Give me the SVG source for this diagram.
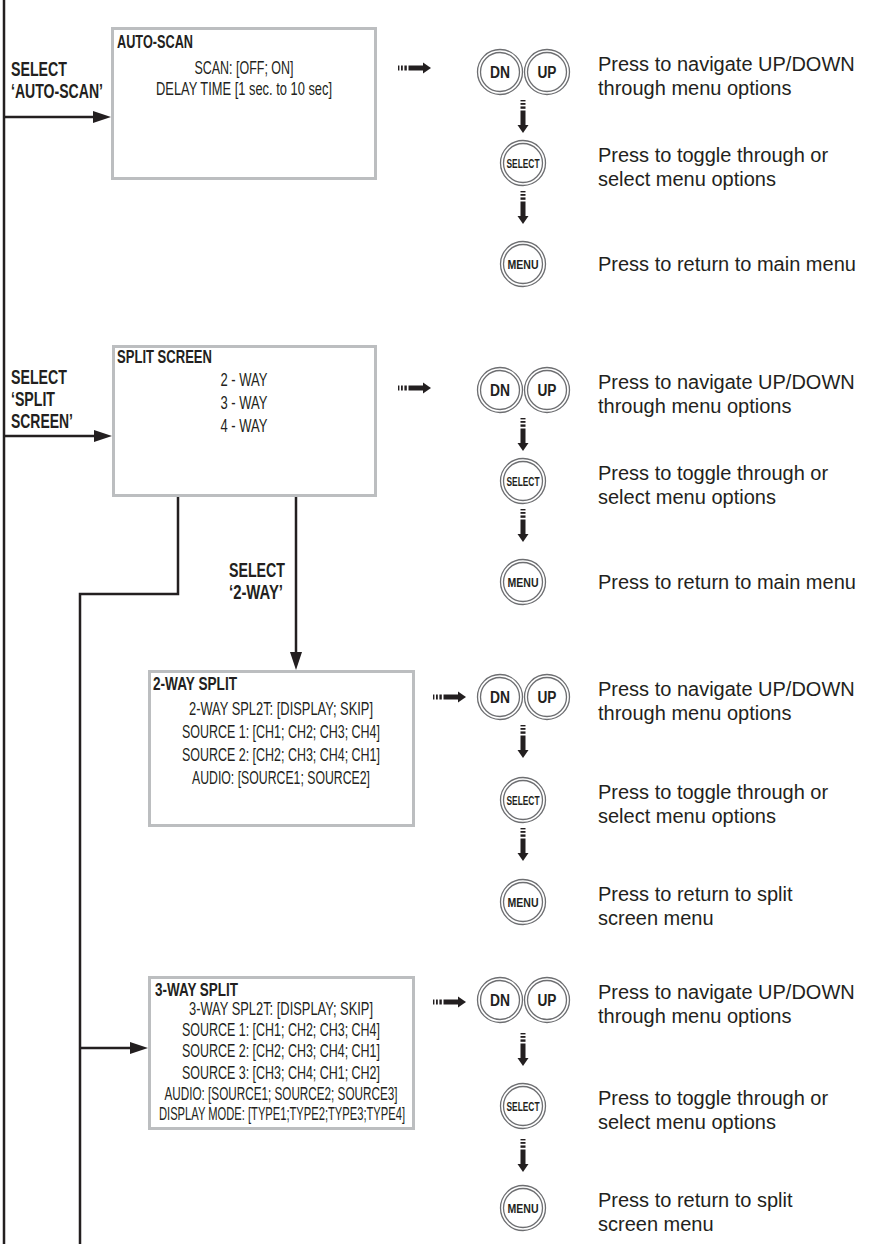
<svg xmlns="http://www.w3.org/2000/svg" width="872" height="1244" viewBox="0 0 872 1244">
<style>
.box{fill:#fff;stroke:#bcbec0;stroke-width:3}
.ttl{font-family:"Liberation Sans",Arial,sans-serif;font-weight:bold;font-size:18.5px;fill:#231f20}
.bd{font-family:"Liberation Sans",Arial,sans-serif;font-size:17.5px;fill:#231f20;text-anchor:middle}
.lbl{font-family:"Liberation Sans",Arial,sans-serif;font-weight:bold;font-size:21px;fill:#231f20}
.rt{font-family:"Liberation Sans",Arial,sans-serif;font-size:20px;fill:#231f20}
.btn{font-family:"Liberation Sans",Arial,sans-serif;font-weight:bold;fill:#231f20;text-anchor:middle}
.ln{fill:none;stroke:#231f20;stroke-width:2.5}
.ring{fill:#fff;stroke:#6d6e71;stroke-width:1.3}
</style>
<defs>
<marker id="ah" markerUnits="userSpaceOnUse" markerWidth="18" markerHeight="12" refX="0" refY="6" orient="auto">
<path d="M0,0 L18,6 L0,12 Z" fill="#231f20"/>
</marker>
<g id="darr" fill="#231f20">
<rect x="-2.5" y="0" width="5" height="1.4"/>
<rect x="-2.5" y="3" width="5" height="1.8"/>
<rect x="-2.5" y="6.4" width="5" height="2.4"/>
<rect x="-2.5" y="10.5" width="5" height="14.5"/>
<path d="M-5.5,25 L5.5,25 L0,33 Z"/>
</g>
<g id="ring2">
<circle r="22.5" class="ring"/>
<circle r="19.5" class="ring"/>
</g>
</defs>

<g id="connectors">
<path class="ln" d="M4,0 V1244"/>
<path class="ln" d="M4,117 H93" marker-end="url(#ah)"/>
<path class="ln" d="M4,436 H94" marker-end="url(#ah)"/>
<path class="ln" d="M178,497 V594 H80 V1244"/>
<path class="ln" d="M80,1048 H130" marker-end="url(#ah)"/>
<path class="ln" d="M296,497 V652" marker-end="url(#ah)"/>
<use href="#darr" transform="translate(398,68) rotate(-90)"/>
<use href="#darr" transform="translate(398,388) rotate(-90)"/>
<use href="#darr" transform="translate(433,697) rotate(-90)"/>
<use href="#darr" transform="translate(433,1002) rotate(-90)"/>
<use href="#darr" x="523" y="100"/>
<use href="#darr" x="523" y="191"/>
<use href="#darr" x="523" y="418"/>
<use href="#darr" x="523" y="509"/>
<use href="#darr" x="523" y="725"/>
<use href="#darr" x="523" y="828"/>
<use href="#darr" x="523" y="1033"/>
<use href="#darr" x="523" y="1139"/>
</g>

<g id="label-autoscan">
<text class="lbl" x="11" y="76" textLength="56" lengthAdjust="spacingAndGlyphs">SELECT</text>
<text class="lbl" x="11" y="97.5" textLength="92" lengthAdjust="spacingAndGlyphs">‘AUTO-SCAN’</text>
</g>
<g id="label-split">
<text class="lbl" x="11" y="383.5" textLength="56" lengthAdjust="spacingAndGlyphs">SELECT</text>
<text class="lbl" x="11" y="405.5" textLength="44" lengthAdjust="spacingAndGlyphs">‘SPLIT</text>
<text class="lbl" x="11" y="427.5" textLength="62" lengthAdjust="spacingAndGlyphs">SCREEN’</text>
</g>
<g id="label-2way">
<text class="lbl" x="229" y="576.5" textLength="56" lengthAdjust="spacingAndGlyphs">SELECT</text>
<text class="lbl" x="229" y="598.5" textLength="54" lengthAdjust="spacingAndGlyphs">‘2-WAY’</text>
</g>

<g id="box-autoscan">
<rect class="box" x="112.5" y="28.5" width="263" height="150"/>
<text class="ttl" x="117" y="47.5" textLength="76" lengthAdjust="spacingAndGlyphs">AUTO-SCAN</text>
<text class="bd" x="244" y="74" textLength="99" lengthAdjust="spacingAndGlyphs">SCAN: [OFF; ON]</text>
<text class="bd" x="244" y="95" textLength="176" lengthAdjust="spacingAndGlyphs">DELAY TIME [1 sec. to 10 sec]</text>
</g>

<g id="box-split">
<rect class="box" x="113.5" y="346.5" width="262" height="149"/>
<text class="ttl" x="117" y="362.5" textLength="95" lengthAdjust="spacingAndGlyphs">SPLIT SCREEN</text>
<text class="bd" x="244" y="385.5" textLength="47" lengthAdjust="spacingAndGlyphs">2 - WAY</text>
<text class="bd" x="244" y="408.5" textLength="47" lengthAdjust="spacingAndGlyphs">3 - WAY</text>
<text class="bd" x="244" y="431.5" textLength="47" lengthAdjust="spacingAndGlyphs">4 - WAY</text>
</g>

<g id="box-2way">
<rect class="box" x="149.5" y="671.5" width="264" height="154"/>
<text class="ttl" x="153" y="689.5" textLength="84" lengthAdjust="spacingAndGlyphs">2-WAY SPLIT</text>
<text class="bd" x="281" y="715" textLength="184" lengthAdjust="spacingAndGlyphs">2-WAY SPL2T: [DISPLAY; SKIP]</text>
<text class="bd" x="281" y="738" textLength="198" lengthAdjust="spacingAndGlyphs">SOURCE 1: [CH1; CH2; CH3; CH4]</text>
<text class="bd" x="281" y="761" textLength="198" lengthAdjust="spacingAndGlyphs">SOURCE 2: [CH2; CH3; CH4; CH1]</text>
<text class="bd" x="281" y="783.5" textLength="178" lengthAdjust="spacingAndGlyphs">AUDIO: [SOURCE1; SOURCE2]</text>
</g>

<g id="box-3way">
<rect class="box" x="149.5" y="977.5" width="264" height="151"/>
<text class="ttl" x="155" y="996" textLength="83" lengthAdjust="spacingAndGlyphs">3-WAY SPLIT</text>
<text class="bd" x="281" y="1015" textLength="184" lengthAdjust="spacingAndGlyphs">3-WAY SPL2T: [DISPLAY; SKIP]</text>
<text class="bd" x="281" y="1035.5" textLength="198" lengthAdjust="spacingAndGlyphs">SOURCE 1: [CH1; CH2; CH3; CH4]</text>
<text class="bd" x="281" y="1057" textLength="198" lengthAdjust="spacingAndGlyphs">SOURCE 2: [CH2; CH3; CH4; CH1]</text>
<text class="bd" x="281" y="1078.5" textLength="198" lengthAdjust="spacingAndGlyphs">SOURCE 3: [CH3; CH4; CH1; CH2]</text>
<text class="bd" x="281" y="1100" textLength="233" lengthAdjust="spacingAndGlyphs">AUDIO: [SOURCE1; SOURCE2; SOURCE3]</text>
<text class="bd" x="282" y="1120" textLength="246" lengthAdjust="spacingAndGlyphs">DISPLAY MODE: [TYPE1;TYPE2;TYPE3;TYPE4]</text>
</g>

<!-- Section 1 buttons -->
<g id="s1-dnup">
<use href="#ring2" x="500" y="72"/><use href="#ring2" x="547" y="72"/>
<text class="btn" x="500" y="78" font-size="16" textLength="20" lengthAdjust="spacingAndGlyphs">DN</text>
<text class="btn" x="547" y="78" font-size="16" textLength="19" lengthAdjust="spacingAndGlyphs">UP</text>
<text class="rt" x="598" y="71">Press to navigate UP/DOWN</text>
<text class="rt" x="598" y="95">through menu options</text>
</g>
<g id="s1-select">
<use href="#ring2" x="523" y="163"/>
<text class="btn" x="523" y="167.5" font-size="12.5" textLength="33" lengthAdjust="spacingAndGlyphs">SELECT</text>
<text class="rt" x="598" y="162">Press to toggle through or</text>
<text class="rt" x="598" y="186">select menu options</text>
</g>
<g id="s1-menu">
<use href="#ring2" x="523" y="264"/>
<text class="btn" x="523" y="268.5" font-size="12.5" textLength="31" lengthAdjust="spacingAndGlyphs">MENU</text>
<text class="rt" x="598" y="271">Press to return to main menu</text>
</g>

<!-- Section 2 buttons -->
<g id="s2-dnup">
<use href="#ring2" x="500" y="390"/><use href="#ring2" x="547" y="390"/>
<text class="btn" x="500" y="396" font-size="16" textLength="20" lengthAdjust="spacingAndGlyphs">DN</text>
<text class="btn" x="547" y="396" font-size="16" textLength="19" lengthAdjust="spacingAndGlyphs">UP</text>
<text class="rt" x="598" y="389">Press to navigate UP/DOWN</text>
<text class="rt" x="598" y="413">through menu options</text>
</g>
<g id="s2-select">
<use href="#ring2" x="523" y="481"/>
<text class="btn" x="523" y="485.5" font-size="12.5" textLength="33" lengthAdjust="spacingAndGlyphs">SELECT</text>
<text class="rt" x="598" y="480">Press to toggle through or</text>
<text class="rt" x="598" y="504">select menu options</text>
</g>
<g id="s2-menu">
<use href="#ring2" x="523" y="582"/>
<text class="btn" x="523" y="586.5" font-size="12.5" textLength="31" lengthAdjust="spacingAndGlyphs">MENU</text>
<text class="rt" x="598" y="589">Press to return to main menu</text>
</g>

<!-- Section 3 buttons -->
<g id="s3-dnup">
<use href="#ring2" x="500" y="697"/><use href="#ring2" x="547" y="697"/>
<text class="btn" x="500" y="703" font-size="16" textLength="20" lengthAdjust="spacingAndGlyphs">DN</text>
<text class="btn" x="547" y="703" font-size="16" textLength="19" lengthAdjust="spacingAndGlyphs">UP</text>
<text class="rt" x="598" y="696">Press to navigate UP/DOWN</text>
<text class="rt" x="598" y="720">through menu options</text>
</g>
<g id="s3-select">
<use href="#ring2" x="523" y="800"/>
<text class="btn" x="523" y="804.5" font-size="12.5" textLength="33" lengthAdjust="spacingAndGlyphs">SELECT</text>
<text class="rt" x="598" y="799">Press to toggle through or</text>
<text class="rt" x="598" y="823">select menu options</text>
</g>
<g id="s3-menu">
<use href="#ring2" x="523" y="902"/>
<text class="btn" x="523" y="906.5" font-size="12.5" textLength="31" lengthAdjust="spacingAndGlyphs">MENU</text>
<text class="rt" x="598" y="901">Press to return to split</text>
<text class="rt" x="598" y="925">screen menu</text>
</g>

<!-- Section 4 buttons -->
<g id="s4-dnup">
<use href="#ring2" x="500" y="1000"/><use href="#ring2" x="547" y="1000"/>
<text class="btn" x="500" y="1006" font-size="16" textLength="20" lengthAdjust="spacingAndGlyphs">DN</text>
<text class="btn" x="547" y="1006" font-size="16" textLength="19" lengthAdjust="spacingAndGlyphs">UP</text>
<text class="rt" x="598" y="999">Press to navigate UP/DOWN</text>
<text class="rt" x="598" y="1023">through menu options</text>
</g>
<g id="s4-select">
<use href="#ring2" x="523" y="1106"/>
<text class="btn" x="523" y="1110.5" font-size="12.5" textLength="33" lengthAdjust="spacingAndGlyphs">SELECT</text>
<text class="rt" x="598" y="1105">Press to toggle through or</text>
<text class="rt" x="598" y="1129">select menu options</text>
</g>
<g id="s4-menu">
<use href="#ring2" x="523" y="1208"/>
<text class="btn" x="523" y="1212.5" font-size="12.5" textLength="31" lengthAdjust="spacingAndGlyphs">MENU</text>
<text class="rt" x="598" y="1207">Press to return to split</text>
<text class="rt" x="598" y="1231">screen menu</text>
</g>
</svg>
